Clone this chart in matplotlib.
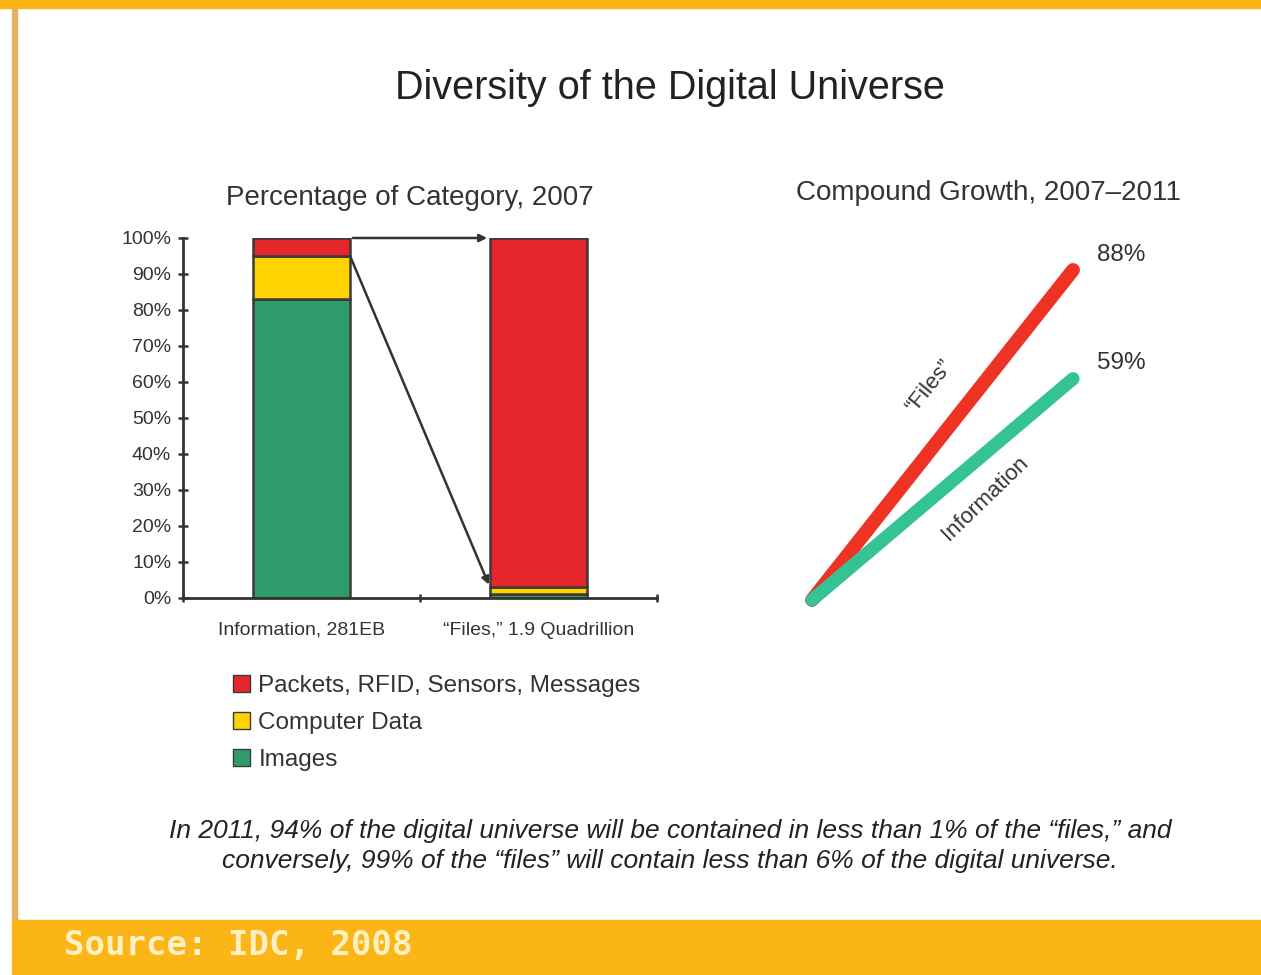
import matplotlib
matplotlib.use("Agg")
import matplotlib.pyplot as plt
from matplotlib.patches import Rectangle, Patch
import numpy as np

plt.rcParams["font.family"] = ["Liberation Sans", "DejaVu Sans"]

# share of each category in 2007 (percent, bottom to top)
bar_labels = ["Information, 281EB", "\u201cFiles,\u201d 1.9 Quadrillion"]
images = [83, 1]
computer_data = [12, 2]
packets = [5, 97]
series_names = ["Packets, RFID, Sensors, Messages", "Computer Data", "Images"]

# compound growth 2007-2011 (percent)
years = [2007, 2011]
files_growth = [0, 88]
info_growth = [0, 59]

RED = "#e5262a"
YELLOW = "#ffd200"
GREEN = "#2e9c6a"
TEAL = "#35c294"
ORANGE = "#fbb516"
EDGE = "#3a3a3a"
TXT = "#333333"

W, H = 1261, 975
fig = plt.figure(figsize=(W / 100, H / 100), dpi=100)
fig.patch.set_facecolor("white")


def fx(px):
    return px / W


def fy(py):
    return 1 - py / H


# frame: top band, left rule, footer band
fig.patches.append(Rectangle((0, fy(8)), 1, 8 / H, transform=fig.transFigure,
                             color=ORANGE, zorder=0))
fig.patches.append(Rectangle((fx(12), fy(920)), 5 / W, 912 / H, transform=fig.transFigure,
                             color="#e2b35c", zorder=0))
fig.patches.append(Rectangle((fx(12), 0), 1, 55 / H, transform=fig.transFigure,
                             color=ORANGE, zorder=0))
fig.text(fx(64), fy(946), "Source: IDC, 2008", family=["DejaVu Sans Mono"],
         fontsize=24.5, fontweight="bold", color="#fff1c4", va="center", ha="left")

fig.text(fx(670), fy(88), "Diversity of the Digital Universe", fontsize=28.5,
         color="#222222", ha="center", va="center")

# ---- stacked bars ----
ax = fig.add_axes([fx(183), fy(598), fx(657) - fx(183), fy(238) - fy(598)])
x = np.arange(len(bar_labels))
width = 0.41
b1 = np.array(images)
b2 = b1 + np.array(computer_data)
ax.bar(x, images, width, color=GREEN, edgecolor=EDGE, lw=1.8, zorder=2)
ax.bar(x, computer_data, width, bottom=b1, color=YELLOW, edgecolor=EDGE, lw=1.8, zorder=2)
ax.bar(x, packets, width, bottom=b2, color=RED, edgecolor=EDGE, lw=1.8, zorder=2)

ax.set_xlim(-0.5, 1.5)
ax.set_ylim(0, 100)
ax.set_yticks(np.arange(0, 101, 10))
ax.set_yticklabels([f"{v}%" for v in range(0, 101, 10)], fontsize=14, color=TXT)
ax.set_xticks(x)
ax.set_xticklabels(bar_labels, fontsize=14, color=TXT)
ax.set_xticks([-0.5, 0.5, 1.5], minor=True)
ax.tick_params(axis="x", which="major", length=0, pad=17)
ax.tick_params(axis="x", which="minor", length=6, direction="inout", width=1.8, color=TXT)
ax.tick_params(axis="y", length=7, direction="inout", width=1.8, color=TXT, pad=5)
for s in ["top", "right"]:
    ax.spines[s].set_visible(False)
for s in ["left", "bottom"]:
    ax.spines[s].set_linewidth(2)
    ax.spines[s].set_color(TXT)
fig.text(fx(410), fy(198), "Percentage of Category, 2007", fontsize=20, color=TXT,
         ha="center", va="center")

# connectors from information bar to files bar
arrow = dict(arrowstyle="-|>", color=TXT, lw=1.8, mutation_scale=11)
ax.annotate("", xy=(1 - width / 2, 100), xytext=(width / 2, 100), arrowprops=arrow,
            annotation_clip=False)
ax.annotate("", xy=(1 - width / 2, b2[1]), xytext=(width / 2, b2[0]), arrowprops=arrow,
            annotation_clip=False)

handles = [Patch(facecolor=c, edgecolor=EDGE) for c in (RED, YELLOW, GREEN)]
fig.legend(handles, series_names, loc="center left", bbox_to_anchor=(fx(211), fy(723)),
           frameon=False, fontsize=17.5, handlelength=0.7, handleheight=0.7,
           labelspacing=0.6, handletextpad=0.35, labelcolor=TXT)

# ---- compound growth ----
gx = fig.add_axes([fx(812), fy(600), fx(1073) - fx(812), fy(270) - fy(600)])
gx.set_xlim(years[0], years[1])
gx.set_ylim(0, 88)
gx.axis("off")
gx.plot(years, files_growth, color="#ee3324", lw=10, solid_capstyle="round", clip_on=False)
gx.plot(years, info_growth, color=TEAL, lw=9.5, solid_capstyle="round", clip_on=False)
gx.annotate(f"{files_growth[-1]}%", (years[-1], files_growth[-1]), xytext=(17, 11),
            textcoords="offset points", fontsize=17.5, color=TXT, va="center")
gx.annotate(f"{info_growth[-1]}%", (years[-1], info_growth[-1]), xytext=(17, 11),
            textcoords="offset points", fontsize=17.5, color=TXT, va="center")
gx.text(2008.8, 57, "\u201cFiles\u201d", rotation=51, fontsize=16, color=TXT,
        ha="center", va="center")
gx.text(2009.65, 27, "Information", rotation=44, fontsize=16, color=TXT,
        ha="center", va="center")
fig.text(fx(988), fy(193), "Compound Growth, 2007\u20132011", fontsize=20,
         color=TXT, ha="center", va="center")

# footnote
note = ("In 2011, 94% of the digital universe will be contained in less than 1% of the \u201cfiles,\u201d and\n"
        "conversely, 99% of the \u201cfiles\u201d will contain less than 6% of the digital universe.")
fig.text(fx(670), fy(846), note, style="italic", fontsize=19, color="#222222",
         ha="center", va="center", linespacing=1.35)

fig.savefig("out.png", dpi=100)
